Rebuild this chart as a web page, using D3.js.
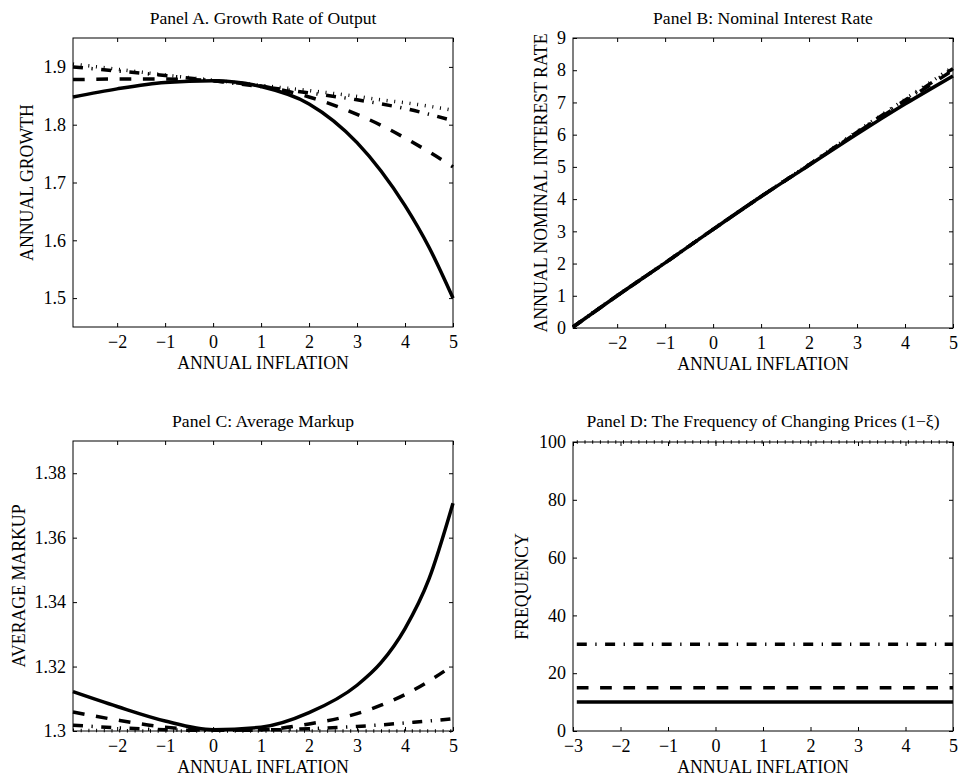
<!DOCTYPE html>
<html>
<head>
<meta charset="utf-8">
<script src="https://cdn.jsdelivr.net/npm/d3@7"></script>
<style>
  body { margin: 0; background: #fff; }
  svg { display: block; }
  text { font-family: "Liberation Serif", "Times New Roman", serif; fill: #000; }
</style>
</head>
<body>
<div id="chart"></div>
<script>
// inflation grid (annual %) shared by panels A-C
const inflation = [-2.92, -2, -1, 0, 1, 2, 3, 3.5, 4, 4.5, 5];

// Panel A: annual growth
const growthSolid   = [1.848, 1.862, 1.873, 1.876, 1.866, 1.836, 1.769, 1.720, 1.660, 1.588, 1.500];
const growthDashed  = [1.878, 1.879, 1.879, 1.876, 1.867, 1.848, 1.818, 1.799, 1.777, 1.753, 1.727];
const growthDashDot = [1.900, 1.893, 1.885, 1.876, 1.866, 1.855, 1.843, 1.836, 1.828, 1.818, 1.807];
const growthDotted  = [1.905, 1.896, 1.886, 1.877, 1.868, 1.859, 1.849, 1.843, 1.838, 1.832, 1.825];

// Panel B: nominal interest rate
const rateSolid   = [0.03, 1.00, 2.02, 3.06, 4.08, 5.05, 6.02, 6.49, 6.95, 7.39, 7.82];
const rateDashed  = [0.03, 1.00, 2.02, 3.06, 4.08, 5.06, 6.06, 6.55, 7.03, 7.52, 8.00];
const rateDashDot = [0.03, 1.00, 2.02, 3.06, 4.08, 5.07, 6.08, 6.58, 7.07, 7.56, 8.05];
const rateDotted  = [0.04, 1.01, 2.03, 3.07, 4.09, 5.08, 6.10, 6.60, 7.10, 7.60, 8.10];

// Panel C: average markup
const markupSolid   = [1.3122, 1.3076, 1.3031, 1.3004, 1.3012, 1.3057, 1.3142, 1.3212, 1.3318, 1.3472, 1.3707];
const markupDashed  = [1.3059, 1.3034, 1.3012, 1.3002, 1.3004, 1.3022, 1.3054, 1.3080, 1.3113, 1.3155, 1.3204];
const markupDashDot = [1.3018, 1.3010, 1.3004, 1.3002, 1.3003, 1.3007, 1.3014, 1.3019, 1.3025, 1.3031, 1.3038];
const markupDotted  = [1.3002, 1.3001, 1.3000, 1.3000, 1.3000, 1.3000, 1.3000, 1.3000, 1.3000, 1.3000, 1.3000];

// Panel D: frequency of changing prices
const inflationD = [-2.92, 5];
const freqSolid   = [10, 10];
const freqDashed  = [15, 15];
const freqDashDot = [30, 30];
const freqDotted  = [100, 100];

const styles = {
  solid:   { dash: null,             width: 3.5 },
  dashed:  { dash: "11.7,11.6",      width: 3.5 },
  dashdot: { dash: "10,8.5,1.3,8.5", width: 3.5 },
  dotted:  { dash: "1,6.7",          width: 3.5 }
};

const serif = "'Liberation Serif', 'Times New Roman', serif";

const svg = d3.select("#chart").append("svg")
  .attr("width", 959)
  .attr("height", 780);

svg.append("rect").attr("width", 959).attr("height", 780).attr("fill", "#fff");

function drawPanel(p) {
  const x = d3.scaleLinear().domain(p.xDomain).range([p.left, p.right]);
  const y = d3.scaleLinear().domain(p.yDomain).range([p.bottom, p.top]);
  const fmt = (d) => String(+d.toFixed(2)).replace("-", "\u2212");

  const line = d3.line()
    .x((d) => x(d[0]))
    .y((d) => y(d[1]))
    .curve(d3.curveMonotoneX);

  p.series.forEach((s) => {
    const st = styles[s.style];
    svg.append("path")
      .datum(p.xs.map((v, i) => [v, s.values[i]]))
      .attr("d", line)
      .attr("fill", "none")
      .attr("stroke", "#000")
      .attr("stroke-width", st.width)
      .attr("stroke-dasharray", st.dash);
  });

  // box
  svg.append("rect")
    .attr("x", p.left).attr("y", p.top)
    .attr("width", p.right - p.left).attr("height", p.bottom - p.top)
    .attr("fill", "none").attr("stroke", "#000").attr("stroke-width", 1);

  // bottom axis with labels (ticks point inward)
  const gx = svg.append("g")
    .attr("transform", `translate(0,${p.bottom})`)
    .call(d3.axisBottom(x).tickValues(p.xTicks).tickFormat(fmt).tickSize(-4).tickPadding(8.2));
  gx.select(".domain").remove();

  svg.append("g")
    .attr("transform", `translate(0,${p.top})`)
    .call(d3.axisTop(x).tickValues(p.xTicks).tickFormat("").tickSize(-4))
    .select(".domain").remove();

  const gy = svg.append("g")
    .attr("transform", `translate(${p.left},0)`)
    .call(d3.axisLeft(y).tickValues(p.yTicks).tickFormat(fmt).tickSize(-4).tickPadding(7));
  gy.select(".domain").remove();

  svg.append("g")
    .attr("transform", `translate(${p.right},0)`)
    .call(d3.axisRight(y).tickValues(p.yTicks).tickFormat("").tickSize(-4))
    .select(".domain").remove();

  svg.selectAll("g.tick line").attr("stroke", "#000");
  [gx, gy].forEach((g) => {
    g.attr("font-family", null).attr("font-size", null);
    g.selectAll("text")
      .style("font-family", serif)
      .style("font-size", "18px")
      .attr("fill", "#000");
  });

  // title
  svg.append("text")
    .attr("x", (p.left + p.right) / 2)
    .attr("y", p.titleY)
    .attr("text-anchor", "middle")
    .attr("font-size", 17.6)
    .text(p.title);

  // x label
  svg.append("text")
    .attr("x", (p.left + p.right) / 2)
    .attr("y", p.bottom + 42)
    .attr("text-anchor", "middle")
    .attr("font-size", 17.8)
    .text("ANNUAL INFLATION");

  // y label
  svg.append("text")
    .attr("transform", `translate(${p.yLabelX},${(p.top + p.bottom) / 2}) rotate(-90)`)
    .attr("text-anchor", "middle")
    .attr("font-size", 17.8)
    .text(p.yLabel);
}

drawPanel({
  left: 73, right: 453, top: 38, bottom: 327,
  xDomain: [-2.92, 5], yDomain: [1.45, 1.95],
  xTicks: [-2, -1, 0, 1, 2, 3, 4, 5], yTicks: [1.5, 1.6, 1.7, 1.8, 1.9],
  xs: inflation,
  series: [
    { style: "dotted", values: growthDotted },
    { style: "dashdot", values: growthDashDot },
    { style: "dashed", values: growthDashed },
    { style: "solid", values: growthSolid }
  ],
  title: "Panel A. Growth Rate of Output", titleY: 24,
  yLabel: "ANNUAL GROWTH", yLabelX: 33
});

drawPanel({
  left: 573, right: 953, top: 38, bottom: 328,
  xDomain: [-2.92, 5], yDomain: [0, 9],
  xTicks: [-2, -1, 0, 1, 2, 3, 4, 5], yTicks: [0, 1, 2, 3, 4, 5, 6, 7, 8, 9],
  xs: inflation,
  series: [
    { style: "dotted", values: rateDotted },
    { style: "dashdot", values: rateDashDot },
    { style: "dashed", values: rateDashed },
    { style: "solid", values: rateSolid }
  ],
  title: "Panel B: Nominal Interest Rate", titleY: 24,
  yLabel: "ANNUAL NOMINAL INTEREST RATE", yLabelX: 546.5
});

drawPanel({
  left: 73, right: 453, top: 441, bottom: 731,
  xDomain: [-2.92, 5], yDomain: [1.3, 1.39],
  xTicks: [-2, -1, 0, 1, 2, 3, 4, 5], yTicks: [1.3, 1.32, 1.34, 1.36, 1.38],
  xs: inflation,
  series: [
    { style: "dotted", values: markupDotted },
    { style: "dashdot", values: markupDashDot },
    { style: "dashed", values: markupDashed },
    { style: "solid", values: markupSolid }
  ],
  title: "Panel C: Average Markup", titleY: 427,
  yLabel: "AVERAGE MARKUP", yLabelX: 25
});

drawPanel({
  left: 573, right: 953, top: 442, bottom: 731,
  xDomain: [-3, 5], yDomain: [0, 100],
  xTicks: [-3, -2, -1, 0, 1, 2, 3, 4, 5], yTicks: [0, 20, 40, 60, 80, 100],
  xs: inflationD,
  series: [
    { style: "dotted", values: freqDotted },
    { style: "dashdot", values: freqDashDot },
    { style: "dashed", values: freqDashed },
    { style: "solid", values: freqSolid }
  ],
  title: "Panel D: The Frequency of Changing Prices (1\u2212\u03BE)", titleY: 427,
  yLabel: "FREQUENCY", yLabelX: 528
});
</script>
</body>
</html>
